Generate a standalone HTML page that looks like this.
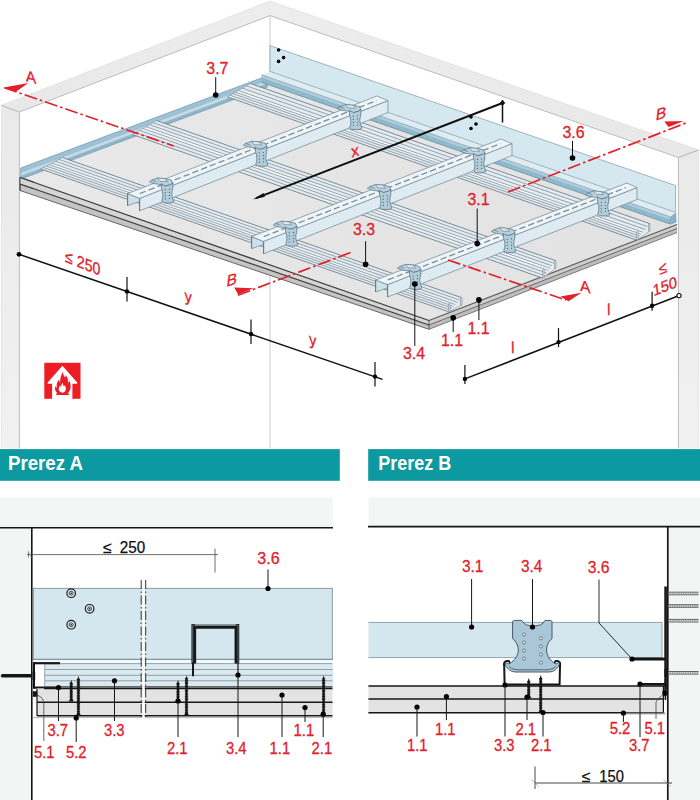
<!DOCTYPE html>
<html lang="sl"><head><meta charset="utf-8"><title>Prerez A / Prerez B</title>
<style>
html,body{margin:0;padding:0;background:#fff;}
body{width:700px;height:800px;overflow:hidden;font-family:"Liberation Sans",sans-serif;}
svg{display:block;font-family:"Liberation Sans",sans-serif;}
</style></head><body>
<svg width="700" height="800" viewBox="0 0 700 800">
<defs>
<linearGradient id="gwl" x1="0" y1="0" x2="0" y2="1"><stop offset="0" stop-color="#e9e9e9"/><stop offset="1" stop-color="#f1f1f1"/></linearGradient>
<linearGradient id="gtl" x1="0" y1="1" x2="1" y2="0"><stop offset="0" stop-color="#e8e8e8"/><stop offset="1" stop-color="#ededed"/></linearGradient>
<linearGradient id="gtr" x1="0" y1="0" x2="1" y2="1"><stop offset="0" stop-color="#ededed"/><stop offset="1" stop-color="#e8e8e8"/></linearGradient>
<linearGradient id="gbd" x1="0" y1="0" x2="1" y2="0"><stop offset="0" stop-color="#e9e9e9"/><stop offset="1" stop-color="#e2e2e2"/></linearGradient>
</defs>
<polygon points="1.4,105.4 270.0,1.2 270.0,15.6 19.4,112.0" fill="url(#gtl)" stroke="none" stroke-width="0.7" stroke-linejoin="round" />
<polygon points="270.0,1.2 698.6,150.0 678.4,157.5 270.0,15.6" fill="url(#gtr)" stroke="none" stroke-width="0.7" stroke-linejoin="round" />
<polygon points="1.4,105.4 19.4,112.0 19.4,448.5 1.4,448.5" fill="url(#gwl)" stroke="none" stroke-width="0.7" stroke-linejoin="round" />
<polygon points="678.4,157.5 698.6,150.0 698.6,448.5 678.4,448.5" fill="url(#gwl)" stroke="none" stroke-width="0.7" stroke-linejoin="round" />
<polyline points="1.4,448.0 1.4,105.4 270.0,1.2 698.6,150.0 698.6,448.0" fill="none" stroke="#dedede" stroke-width="0.8" />
<polyline points="19.4,448.0 19.4,112.0 270.0,15.6 678.4,157.5 678.4,448.0" fill="none" stroke="#adadad" stroke-width="0.8" />
<line x1="1.4" y1="105.4" x2="19.4" y2="112.0" stroke="#adadad" stroke-width="0.9" />
<line x1="678.4" y1="157.5" x2="698.6" y2="150.0" stroke="#adadad" stroke-width="0.9" />
<line x1="270.0" y1="15.6" x2="270.0" y2="448.0" stroke="#bdbdbd" stroke-width="0.8" />
<polygon points="20.0,177.5 429.0,320.5 677.0,224.5 268.0,81.5" fill="url(#gbd)" stroke="none" stroke-width="0.7" stroke-linejoin="round" />
<polygon points="20.0,177.5 429.0,320.5 429.0,325.0 20.0,184.0" fill="#d6d6d6" stroke="none" stroke-width="0.7" stroke-linejoin="round" />
<polygon points="20.0,184.0 429.0,325.0 429.0,329.3 20.0,190.5" fill="#c4c4c4" stroke="none" stroke-width="0.7" stroke-linejoin="round" />
<polygon points="429.0,320.5 677.0,224.5 677.0,228.5 429.0,325.0" fill="#cfcfcf" stroke="none" stroke-width="0.7" stroke-linejoin="round" />
<polygon points="429.0,325.0 677.0,228.5 677.0,232.5 429.0,329.3" fill="#bdbdbd" stroke="none" stroke-width="0.7" stroke-linejoin="round" />
<polyline points="20.0,177.5 429.0,320.5" fill="none" stroke="#3c3c3c" stroke-width="1.3" />
<polyline points="429.0,320.5 677.0,224.5" fill="none" stroke="#5c5c5c" stroke-width="1.15" />
<polyline points="20.0,184.0 429.0,325.0" fill="none" stroke="#3c3c3c" stroke-width="1.2" />
<polyline points="429.0,325.0 677.0,228.5" fill="none" stroke="#686868" stroke-width="1.0" />
<polyline points="20.0,190.5 429.0,329.3" fill="none" stroke="#666" stroke-width="1.0" />
<polyline points="429.0,329.3 677.0,232.5" fill="none" stroke="#7c7c7c" stroke-width="1.0" />
<line x1="429.0" y1="320.5" x2="429.0" y2="329.3" stroke="#3c3c3c" stroke-width="0.8" />
<line x1="20.0" y1="177.5" x2="20.0" y2="190.5" stroke="#3c3c3c" stroke-width="0.8" />
<polygon points="20.7,168.0 268.0,75.5 268.0,80.0 20.7,172.5" fill="#9cc2d6" stroke="none" stroke-width="0.5" stroke-linejoin="round" />
<polygon points="20.7,172.5 268.0,80.0 268.0,83.8 20.7,176.3" fill="#c4dbe7" stroke="none" stroke-width="0.5" stroke-linejoin="round" />
<polygon points="20.7,176.3 268.0,83.8 268.0,86.7 20.7,179.2" fill="#8fb6ca" stroke="none" stroke-width="0.5" stroke-linejoin="round" />
<line x1="20.7" y1="168.0" x2="268.0" y2="75.5" stroke="#6f93a7" stroke-width="0.7" />
<line x1="20.7" y1="172.5" x2="268.0" y2="80.0" stroke="#7fa3b6" stroke-width="0.5" />
<line x1="20.7" y1="176.3" x2="268.0" y2="83.8" stroke="#7fa3b6" stroke-width="0.5" />
<line x1="20.7" y1="179.2" x2="268.0" y2="86.7" stroke="#6f93a7" stroke-width="0.6" />
<line x1="20.7" y1="168.0" x2="20.7" y2="177.5" stroke="#6f93a7" stroke-width="0.7" />
<polygon points="20.0,177.5 34.0,182.4 34.0,188.8 20.0,184.0" fill="#d6d6d6" stroke="none" stroke-width="0.7" stroke-linejoin="round" />
<line x1="20.0" y1="177.5" x2="34.0" y2="182.4" stroke="#3c3c3c" stroke-width="1.3" />
<line x1="20.0" y1="184.0" x2="34.0" y2="188.8" stroke="#3c3c3c" stroke-width="1.2" />
<line x1="20.0" y1="177.5" x2="20.0" y2="190.5" stroke="#3c3c3c" stroke-width="0.8" />
<polygon points="250.4,83.5 650.0,223.8 650.0,230.8 636.5,240.0 227.2,96.8" fill="#e4ecf1" stroke="none" stroke-width="0.7" stroke-linejoin="round" />
<polygon points="238.2,90.5 642.9,232.3 641.3,234.2 235.4,92.1" fill="#fbfdfe" stroke="none" stroke-width="0.7" stroke-linejoin="round" />
<line x1="250.4" y1="83.5" x2="650.0" y2="223.8" stroke="#6f808b" stroke-width="0.9" />
<line x1="246.3" y1="85.8" x2="647.6" y2="226.6" stroke="#80919c" stroke-width="0.8" />
<line x1="242.3" y1="88.1" x2="645.3" y2="229.5" stroke="#80919c" stroke-width="0.8" />
<line x1="238.2" y1="90.5" x2="642.9" y2="232.3" stroke="#80919c" stroke-width="0.8" />
<line x1="235.4" y1="92.1" x2="641.3" y2="234.2" stroke="#80919c" stroke-width="0.8" />
<line x1="232.7" y1="93.6" x2="639.7" y2="236.2" stroke="#80919c" stroke-width="0.8" />
<line x1="229.9" y1="95.2" x2="638.1" y2="238.1" stroke="#80919c" stroke-width="0.8" />
<line x1="227.2" y1="96.8" x2="636.5" y2="240.0" stroke="#6f808b" stroke-width="0.9" />
<line x1="250.4" y1="83.5" x2="227.2" y2="96.8" stroke="#8a99a3" stroke-width="0.7" />
<polygon points="650.0,223.8 650.0,230.8 648.5,231.4 648.5,223.3" fill="#cfdde6" stroke="#7f8f9a" stroke-width="0.6" stroke-linejoin="round" />
<polygon points="636.5,232.0 636.5,240.0 638.1,239.4 638.1,231.4" fill="#cfdde6" stroke="#7f8f9a" stroke-width="0.6" stroke-linejoin="round" />
<line x1="650.0" y1="230.8" x2="638.1" y2="239.4" stroke="#8a99a3" stroke-width="0.6" />
<polygon points="156.4,120.5 556.0,260.8 556.0,267.8 542.5,278.0 132.6,134.6" fill="#e4ecf1" stroke="none" stroke-width="0.7" stroke-linejoin="round" />
<polygon points="145.9,126.7 550.1,268.4 548.4,270.4 143.1,128.4" fill="#fbfdfe" stroke="none" stroke-width="0.7" stroke-linejoin="round" />
<line x1="156.4" y1="120.5" x2="556.0" y2="260.8" stroke="#6f808b" stroke-width="0.9" />
<line x1="152.9" y1="122.6" x2="554.0" y2="263.3" stroke="#80919c" stroke-width="0.8" />
<line x1="149.4" y1="124.6" x2="552.0" y2="265.8" stroke="#80919c" stroke-width="0.8" />
<line x1="145.9" y1="126.7" x2="550.1" y2="268.4" stroke="#80919c" stroke-width="0.8" />
<line x1="143.1" y1="128.4" x2="548.4" y2="270.4" stroke="#80919c" stroke-width="0.8" />
<line x1="139.6" y1="130.4" x2="546.5" y2="273.0" stroke="#80919c" stroke-width="0.8" />
<line x1="136.1" y1="132.5" x2="544.5" y2="275.5" stroke="#80919c" stroke-width="0.8" />
<line x1="132.6" y1="134.6" x2="542.5" y2="278.0" stroke="#6f808b" stroke-width="0.9" />
<line x1="156.4" y1="120.5" x2="132.6" y2="134.6" stroke="#8a99a3" stroke-width="0.7" />
<polygon points="556.0,260.8 556.0,267.8 554.5,268.4 554.5,260.3" fill="#cfdde6" stroke="#7f8f9a" stroke-width="0.6" stroke-linejoin="round" />
<polygon points="542.5,270.0 542.5,278.0 544.1,277.4 544.1,269.4" fill="#cfdde6" stroke="#7f8f9a" stroke-width="0.6" stroke-linejoin="round" />
<line x1="556.0" y1="267.8" x2="544.1" y2="277.4" stroke="#8a99a3" stroke-width="0.6" />
<polygon points="62.4,157.5 462.0,297.8 462.0,304.8 448.5,311.7 40.6,168.9" fill="#e4ecf1" stroke="none" stroke-width="0.7" stroke-linejoin="round" />
<polygon points="51.7,163.1 455.4,304.6 453.8,306.3 49.1,164.5" fill="#fbfdfe" stroke="none" stroke-width="0.7" stroke-linejoin="round" />
<line x1="62.4" y1="157.5" x2="462.0" y2="297.8" stroke="#6f808b" stroke-width="0.9" />
<line x1="58.8" y1="159.4" x2="459.8" y2="300.1" stroke="#80919c" stroke-width="0.8" />
<line x1="55.3" y1="161.2" x2="457.6" y2="302.3" stroke="#80919c" stroke-width="0.8" />
<line x1="51.7" y1="163.1" x2="455.4" y2="304.6" stroke="#80919c" stroke-width="0.8" />
<line x1="49.1" y1="164.5" x2="453.8" y2="306.3" stroke="#80919c" stroke-width="0.8" />
<line x1="46.3" y1="166.0" x2="452.0" y2="308.1" stroke="#80919c" stroke-width="0.8" />
<line x1="43.4" y1="167.5" x2="450.3" y2="309.9" stroke="#80919c" stroke-width="0.8" />
<line x1="40.6" y1="168.9" x2="448.5" y2="311.7" stroke="#6f808b" stroke-width="0.9" />
<line x1="62.4" y1="157.5" x2="40.6" y2="168.9" stroke="#8a99a3" stroke-width="0.7" />
<polygon points="462.0,297.8 462.0,304.8 460.5,305.4 460.5,297.3" fill="#cfdde6" stroke="#7f8f9a" stroke-width="0.6" stroke-linejoin="round" />
<polygon points="448.5,303.7 448.5,311.7 450.1,311.1 450.1,303.1" fill="#cfdde6" stroke="#7f8f9a" stroke-width="0.6" stroke-linejoin="round" />
<line x1="462.0" y1="304.8" x2="450.1" y2="311.1" stroke="#8a99a3" stroke-width="0.6" />
<polygon points="261.4,74.7 670.2,216.8 670.2,220.1 261.4,78.1" fill="#aecddd" stroke="none" stroke-width="0.7" stroke-linejoin="round" />
<polygon points="261.4,78.1 670.2,220.1 670.2,224.1 261.4,82.3" fill="#8ebace" stroke="none" stroke-width="0.7" stroke-linejoin="round" />
<polygon points="670.2,216.8 675.8,212.8 676.2,222.6 670.2,224.1" fill="#86b3c8" stroke="#6f93a7" stroke-width="0.5" stroke-linejoin="round" />
<polygon points="270.0,71.4 675.6,212.4 670.2,216.8 261.4,74.7" fill="#dfedf3" stroke="none" stroke-width="0.7" stroke-linejoin="round" />
<line x1="261.4" y1="74.7" x2="670.2" y2="216.8" stroke="#6f8fa0" stroke-width="0.6" />
<line x1="261.4" y1="78.1" x2="670.2" y2="220.1" stroke="#7fa3b6" stroke-width="0.5" />
<line x1="261.4" y1="82.3" x2="670.2" y2="224.1" stroke="#5f8598" stroke-width="0.7" />
<polygon points="270.0,45.6 675.6,185.6 675.6,212.4 270.0,71.4" fill="#d6e8ef" stroke="#7f99a6" stroke-width="0.7" stroke-linejoin="round" />
<circle cx="278.6" cy="50.0" r="1.8" fill="#000" stroke="none" stroke-width="0.7"/>
<circle cx="283.6" cy="57.6" r="1.8" fill="#000" stroke="none" stroke-width="0.7"/>
<circle cx="278.6" cy="61.4" r="1.8" fill="#000" stroke="none" stroke-width="0.7"/>
<polygon points="127.6,193.6 139.6,198.4 139.6,201.5 127.6,205.6" fill="#cde1eb" stroke="#6f8592" stroke-width="0.7" stroke-linejoin="round" />
<polygon points="139.6,198.4 388.0,100.6 388.0,112.6 139.6,210.8" fill="#deebf2" stroke="#6f8592" stroke-width="0.7" stroke-linejoin="round" />
<polygon points="127.6,193.6 139.6,198.4 388.0,100.6 377.0,96.0" fill="#eef5f9" stroke="#6f8592" stroke-width="0.7" stroke-linejoin="round" />
<line x1="139.6" y1="198.4" x2="139.6" y2="210.8" stroke="#5f7582" stroke-width="0.9" />
<line x1="127.6" y1="193.6" x2="127.6" y2="205.6" stroke="#5f7582" stroke-width="0.9" />
<line x1="139.8" y1="193.6" x2="376.3" y2="100.7" stroke="#7a8d99" stroke-width="1.3" stroke-dasharray="6.4 3.0"/>
<polygon points="149.4,181.8 151.5,180.2 157.5,178.0 165.0,178.6 171.2,180.0 173.0,183.0 170.0,184.8 165.5,186.0 159.5,184.4 154.0,183.6" fill="#b9d1de" stroke="#4f6b7a" stroke-width="0.65" stroke-linejoin="round" />
<polygon points="157.5,178.0 165.0,178.6 167.5,181.6 160.0,181.4" fill="#dbe8ef" stroke="#4f6b7a" stroke-width="0.5" stroke-linejoin="round" />
<line x1="151.5" y1="180.2" x2="156.5" y2="182.0" stroke="#4f6b7a" stroke-width="0.6" />
<path d="M161.3 183.8 L165.5 186.0 L170.0 184.8 L173.0 183.0 L172.6 189.2 C171.4 192.2 171.6 196.2 172.8 198.7 L174.0 201.4 L171.0 203.0 L163.5 202.8 L161.8 201.0 C163.4 197.2 163.2 192.2 161.6 188.7 Z" fill="#b2ccda" stroke="#4f6b7a" stroke-width="0.7" stroke-linejoin="round"/>
<circle cx="165.3" cy="189.6" r="0.62" fill="#3f5a69" stroke="none" stroke-width="0.7"/>
<circle cx="169.5" cy="189.2" r="0.62" fill="#3f5a69" stroke="none" stroke-width="0.7"/>
<circle cx="165.3" cy="192.7" r="0.62" fill="#3f5a69" stroke="none" stroke-width="0.7"/>
<circle cx="169.5" cy="192.3" r="0.62" fill="#3f5a69" stroke="none" stroke-width="0.7"/>
<circle cx="165.3" cy="195.8" r="0.62" fill="#3f5a69" stroke="none" stroke-width="0.7"/>
<circle cx="169.5" cy="195.4" r="0.62" fill="#3f5a69" stroke="none" stroke-width="0.7"/>
<circle cx="165.3" cy="198.9" r="0.62" fill="#3f5a69" stroke="none" stroke-width="0.7"/>
<circle cx="169.5" cy="198.5" r="0.62" fill="#3f5a69" stroke="none" stroke-width="0.7"/>
<polygon points="243.4,145.1 245.5,143.5 251.5,141.3 259.0,141.9 265.2,143.3 267.0,146.3 264.0,148.1 259.5,149.3 253.5,147.7 248.0,146.9" fill="#b9d1de" stroke="#4f6b7a" stroke-width="0.65" stroke-linejoin="round" />
<polygon points="251.5,141.3 259.0,141.9 261.5,144.9 254.0,144.7" fill="#dbe8ef" stroke="#4f6b7a" stroke-width="0.5" stroke-linejoin="round" />
<line x1="245.5" y1="143.5" x2="250.5" y2="145.3" stroke="#4f6b7a" stroke-width="0.6" />
<path d="M255.3 147.1 L259.5 149.3 L264.0 148.1 L267.0 146.3 L266.6 152.5 C265.4 155.5 265.6 159.5 266.8 162.0 L268.0 164.7 L265.0 166.3 L257.5 166.1 L255.8 164.3 C257.4 160.5 257.2 155.5 255.6 152.0 Z" fill="#b2ccda" stroke="#4f6b7a" stroke-width="0.7" stroke-linejoin="round"/>
<circle cx="259.3" cy="152.9" r="0.62" fill="#3f5a69" stroke="none" stroke-width="0.7"/>
<circle cx="263.5" cy="152.5" r="0.62" fill="#3f5a69" stroke="none" stroke-width="0.7"/>
<circle cx="259.3" cy="156.0" r="0.62" fill="#3f5a69" stroke="none" stroke-width="0.7"/>
<circle cx="263.5" cy="155.6" r="0.62" fill="#3f5a69" stroke="none" stroke-width="0.7"/>
<circle cx="259.3" cy="159.1" r="0.62" fill="#3f5a69" stroke="none" stroke-width="0.7"/>
<circle cx="263.5" cy="158.7" r="0.62" fill="#3f5a69" stroke="none" stroke-width="0.7"/>
<circle cx="259.3" cy="162.2" r="0.62" fill="#3f5a69" stroke="none" stroke-width="0.7"/>
<circle cx="263.5" cy="161.8" r="0.62" fill="#3f5a69" stroke="none" stroke-width="0.7"/>
<polygon points="337.4,108.4 339.5,106.8 345.5,104.6 353.0,105.2 359.2,106.6 361.0,109.6 358.0,111.4 353.5,112.6 347.5,111.0 342.0,110.2" fill="#b9d1de" stroke="#4f6b7a" stroke-width="0.65" stroke-linejoin="round" />
<polygon points="345.5,104.6 353.0,105.2 355.5,108.2 348.0,108.0" fill="#dbe8ef" stroke="#4f6b7a" stroke-width="0.5" stroke-linejoin="round" />
<line x1="339.5" y1="106.8" x2="344.5" y2="108.6" stroke="#4f6b7a" stroke-width="0.6" />
<path d="M349.3 110.4 L353.5 112.6 L358.0 111.4 L361.0 109.6 L360.6 115.8 C359.4 118.8 359.6 122.8 360.8 125.3 L362.0 128.0 L359.0 129.6 L351.5 129.4 L349.8 127.6 C351.4 123.8 351.2 118.8 349.6 115.3 Z" fill="#b2ccda" stroke="#4f6b7a" stroke-width="0.7" stroke-linejoin="round"/>
<circle cx="353.3" cy="116.2" r="0.62" fill="#3f5a69" stroke="none" stroke-width="0.7"/>
<circle cx="357.5" cy="115.8" r="0.62" fill="#3f5a69" stroke="none" stroke-width="0.7"/>
<circle cx="353.3" cy="119.3" r="0.62" fill="#3f5a69" stroke="none" stroke-width="0.7"/>
<circle cx="357.5" cy="118.9" r="0.62" fill="#3f5a69" stroke="none" stroke-width="0.7"/>
<circle cx="353.3" cy="122.4" r="0.62" fill="#3f5a69" stroke="none" stroke-width="0.7"/>
<circle cx="357.5" cy="122.0" r="0.62" fill="#3f5a69" stroke="none" stroke-width="0.7"/>
<circle cx="353.3" cy="125.5" r="0.62" fill="#3f5a69" stroke="none" stroke-width="0.7"/>
<circle cx="357.5" cy="125.1" r="0.62" fill="#3f5a69" stroke="none" stroke-width="0.7"/>
<polygon points="251.6,236.6 263.6,241.4 263.6,244.5 251.6,248.6" fill="#cde1eb" stroke="#6f8592" stroke-width="0.7" stroke-linejoin="round" />
<polygon points="263.6,241.4 512.0,143.6 512.0,155.6 263.6,253.8" fill="#deebf2" stroke="#6f8592" stroke-width="0.7" stroke-linejoin="round" />
<polygon points="251.6,236.6 263.6,241.4 512.0,143.6 501.0,139.0" fill="#eef5f9" stroke="#6f8592" stroke-width="0.7" stroke-linejoin="round" />
<line x1="263.6" y1="241.4" x2="263.6" y2="253.8" stroke="#5f7582" stroke-width="0.9" />
<line x1="251.6" y1="236.6" x2="251.6" y2="248.6" stroke="#5f7582" stroke-width="0.9" />
<line x1="263.8" y1="236.6" x2="500.3" y2="143.7" stroke="#7a8d99" stroke-width="1.3" stroke-dasharray="6.4 3.0"/>
<polygon points="273.4,225.0 275.5,223.4 281.5,221.2 289.0,221.8 295.2,223.2 297.0,226.2 294.0,228.0 289.5,229.2 283.5,227.6 278.0,226.8" fill="#b9d1de" stroke="#4f6b7a" stroke-width="0.65" stroke-linejoin="round" />
<polygon points="281.5,221.2 289.0,221.8 291.5,224.8 284.0,224.6" fill="#dbe8ef" stroke="#4f6b7a" stroke-width="0.5" stroke-linejoin="round" />
<line x1="275.5" y1="223.4" x2="280.5" y2="225.2" stroke="#4f6b7a" stroke-width="0.6" />
<path d="M285.3 227.0 L289.5 229.2 L294.0 228.0 L297.0 226.2 L296.6 232.4 C295.4 235.4 295.6 239.4 296.8 241.9 L298.0 244.6 L295.0 246.2 L287.5 246.0 L285.8 244.2 C287.4 240.4 287.2 235.4 285.6 231.9 Z" fill="#b2ccda" stroke="#4f6b7a" stroke-width="0.7" stroke-linejoin="round"/>
<circle cx="289.3" cy="232.8" r="0.62" fill="#3f5a69" stroke="none" stroke-width="0.7"/>
<circle cx="293.5" cy="232.4" r="0.62" fill="#3f5a69" stroke="none" stroke-width="0.7"/>
<circle cx="289.3" cy="235.9" r="0.62" fill="#3f5a69" stroke="none" stroke-width="0.7"/>
<circle cx="293.5" cy="235.5" r="0.62" fill="#3f5a69" stroke="none" stroke-width="0.7"/>
<circle cx="289.3" cy="239.0" r="0.62" fill="#3f5a69" stroke="none" stroke-width="0.7"/>
<circle cx="293.5" cy="238.6" r="0.62" fill="#3f5a69" stroke="none" stroke-width="0.7"/>
<circle cx="289.3" cy="242.1" r="0.62" fill="#3f5a69" stroke="none" stroke-width="0.7"/>
<circle cx="293.5" cy="241.7" r="0.62" fill="#3f5a69" stroke="none" stroke-width="0.7"/>
<polygon points="367.4,188.3 369.5,186.7 375.5,184.5 383.0,185.1 389.2,186.5 391.0,189.5 388.0,191.3 383.5,192.5 377.5,190.9 372.0,190.1" fill="#b9d1de" stroke="#4f6b7a" stroke-width="0.65" stroke-linejoin="round" />
<polygon points="375.5,184.5 383.0,185.1 385.5,188.1 378.0,187.9" fill="#dbe8ef" stroke="#4f6b7a" stroke-width="0.5" stroke-linejoin="round" />
<line x1="369.5" y1="186.7" x2="374.5" y2="188.5" stroke="#4f6b7a" stroke-width="0.6" />
<path d="M379.3 190.3 L383.5 192.5 L388.0 191.3 L391.0 189.5 L390.6 195.7 C389.4 198.7 389.6 202.7 390.8 205.2 L392.0 207.9 L389.0 209.5 L381.5 209.3 L379.8 207.5 C381.4 203.7 381.2 198.7 379.6 195.2 Z" fill="#b2ccda" stroke="#4f6b7a" stroke-width="0.7" stroke-linejoin="round"/>
<circle cx="383.3" cy="196.1" r="0.62" fill="#3f5a69" stroke="none" stroke-width="0.7"/>
<circle cx="387.5" cy="195.7" r="0.62" fill="#3f5a69" stroke="none" stroke-width="0.7"/>
<circle cx="383.3" cy="199.2" r="0.62" fill="#3f5a69" stroke="none" stroke-width="0.7"/>
<circle cx="387.5" cy="198.8" r="0.62" fill="#3f5a69" stroke="none" stroke-width="0.7"/>
<circle cx="383.3" cy="202.3" r="0.62" fill="#3f5a69" stroke="none" stroke-width="0.7"/>
<circle cx="387.5" cy="201.9" r="0.62" fill="#3f5a69" stroke="none" stroke-width="0.7"/>
<circle cx="383.3" cy="205.4" r="0.62" fill="#3f5a69" stroke="none" stroke-width="0.7"/>
<circle cx="387.5" cy="205.0" r="0.62" fill="#3f5a69" stroke="none" stroke-width="0.7"/>
<polygon points="461.4,151.6 463.5,150.0 469.5,147.8 477.0,148.4 483.2,149.8 485.0,152.8 482.0,154.6 477.5,155.8 471.5,154.2 466.0,153.4" fill="#b9d1de" stroke="#4f6b7a" stroke-width="0.65" stroke-linejoin="round" />
<polygon points="469.5,147.8 477.0,148.4 479.5,151.4 472.0,151.2" fill="#dbe8ef" stroke="#4f6b7a" stroke-width="0.5" stroke-linejoin="round" />
<line x1="463.5" y1="150.0" x2="468.5" y2="151.8" stroke="#4f6b7a" stroke-width="0.6" />
<path d="M473.3 153.6 L477.5 155.8 L482.0 154.6 L485.0 152.8 L484.6 159.0 C483.4 162.0 483.6 166.0 484.8 168.5 L486.0 171.2 L483.0 172.8 L475.5 172.6 L473.8 170.8 C475.4 167.0 475.2 162.0 473.6 158.5 Z" fill="#b2ccda" stroke="#4f6b7a" stroke-width="0.7" stroke-linejoin="round"/>
<circle cx="477.3" cy="159.4" r="0.62" fill="#3f5a69" stroke="none" stroke-width="0.7"/>
<circle cx="481.5" cy="159.0" r="0.62" fill="#3f5a69" stroke="none" stroke-width="0.7"/>
<circle cx="477.3" cy="162.5" r="0.62" fill="#3f5a69" stroke="none" stroke-width="0.7"/>
<circle cx="481.5" cy="162.1" r="0.62" fill="#3f5a69" stroke="none" stroke-width="0.7"/>
<circle cx="477.3" cy="165.6" r="0.62" fill="#3f5a69" stroke="none" stroke-width="0.7"/>
<circle cx="481.5" cy="165.2" r="0.62" fill="#3f5a69" stroke="none" stroke-width="0.7"/>
<circle cx="477.3" cy="168.7" r="0.62" fill="#3f5a69" stroke="none" stroke-width="0.7"/>
<circle cx="481.5" cy="168.3" r="0.62" fill="#3f5a69" stroke="none" stroke-width="0.7"/>
<polygon points="375.6,280.0 387.6,284.6 387.6,287.9 375.6,292.0" fill="#cde1eb" stroke="#6f8592" stroke-width="0.7" stroke-linejoin="round" />
<polygon points="387.6,284.6 637.0,187.6 637.0,199.6 387.6,297.0" fill="#deebf2" stroke="#6f8592" stroke-width="0.7" stroke-linejoin="round" />
<polygon points="375.6,280.0 387.6,284.6 637.0,187.6 627.0,183.0" fill="#eef5f9" stroke="#6f8592" stroke-width="0.7" stroke-linejoin="round" />
<line x1="387.6" y1="284.6" x2="387.6" y2="297.0" stroke="#5f7582" stroke-width="0.9" />
<line x1="375.6" y1="280.0" x2="375.6" y2="292.0" stroke="#5f7582" stroke-width="0.9" />
<line x1="387.9" y1="279.9" x2="625.7" y2="187.7" stroke="#7a8d99" stroke-width="1.3" stroke-dasharray="6.4 3.0"/>
<polygon points="397.4,268.2 399.5,266.6 405.5,264.4 413.0,265.0 419.2,266.4 421.0,269.4 418.0,271.2 413.5,272.4 407.5,270.8 402.0,270.0" fill="#b9d1de" stroke="#4f6b7a" stroke-width="0.65" stroke-linejoin="round" />
<polygon points="405.5,264.4 413.0,265.0 415.5,268.0 408.0,267.8" fill="#dbe8ef" stroke="#4f6b7a" stroke-width="0.5" stroke-linejoin="round" />
<line x1="399.5" y1="266.6" x2="404.5" y2="268.4" stroke="#4f6b7a" stroke-width="0.6" />
<path d="M409.3 270.2 L413.5 272.4 L418.0 271.2 L421.0 269.4 L420.6 275.6 C419.4 278.6 419.6 282.6 420.8 285.1 L422.0 287.8 L419.0 289.4 L411.5 289.2 L409.8 287.4 C411.4 283.6 411.2 278.6 409.6 275.1 Z" fill="#b2ccda" stroke="#4f6b7a" stroke-width="0.7" stroke-linejoin="round"/>
<circle cx="413.3" cy="276.0" r="0.62" fill="#3f5a69" stroke="none" stroke-width="0.7"/>
<circle cx="417.5" cy="275.6" r="0.62" fill="#3f5a69" stroke="none" stroke-width="0.7"/>
<circle cx="413.3" cy="279.1" r="0.62" fill="#3f5a69" stroke="none" stroke-width="0.7"/>
<circle cx="417.5" cy="278.7" r="0.62" fill="#3f5a69" stroke="none" stroke-width="0.7"/>
<circle cx="413.3" cy="282.2" r="0.62" fill="#3f5a69" stroke="none" stroke-width="0.7"/>
<circle cx="417.5" cy="281.8" r="0.62" fill="#3f5a69" stroke="none" stroke-width="0.7"/>
<circle cx="413.3" cy="285.3" r="0.62" fill="#3f5a69" stroke="none" stroke-width="0.7"/>
<circle cx="417.5" cy="284.9" r="0.62" fill="#3f5a69" stroke="none" stroke-width="0.7"/>
<polygon points="491.4,231.5 493.5,229.9 499.5,227.7 507.0,228.3 513.2,229.7 515.0,232.7 512.0,234.5 507.5,235.7 501.5,234.1 496.0,233.3" fill="#b9d1de" stroke="#4f6b7a" stroke-width="0.65" stroke-linejoin="round" />
<polygon points="499.5,227.7 507.0,228.3 509.5,231.3 502.0,231.1" fill="#dbe8ef" stroke="#4f6b7a" stroke-width="0.5" stroke-linejoin="round" />
<line x1="493.5" y1="229.9" x2="498.5" y2="231.7" stroke="#4f6b7a" stroke-width="0.6" />
<path d="M503.3 233.5 L507.5 235.7 L512.0 234.5 L515.0 232.7 L514.6 238.9 C513.4 241.9 513.6 245.9 514.8 248.4 L516.0 251.1 L513.0 252.7 L505.5 252.5 L503.8 250.7 C505.4 246.9 505.2 241.9 503.6 238.4 Z" fill="#b2ccda" stroke="#4f6b7a" stroke-width="0.7" stroke-linejoin="round"/>
<circle cx="507.3" cy="239.3" r="0.62" fill="#3f5a69" stroke="none" stroke-width="0.7"/>
<circle cx="511.5" cy="238.9" r="0.62" fill="#3f5a69" stroke="none" stroke-width="0.7"/>
<circle cx="507.3" cy="242.4" r="0.62" fill="#3f5a69" stroke="none" stroke-width="0.7"/>
<circle cx="511.5" cy="242.0" r="0.62" fill="#3f5a69" stroke="none" stroke-width="0.7"/>
<circle cx="507.3" cy="245.5" r="0.62" fill="#3f5a69" stroke="none" stroke-width="0.7"/>
<circle cx="511.5" cy="245.1" r="0.62" fill="#3f5a69" stroke="none" stroke-width="0.7"/>
<circle cx="507.3" cy="248.6" r="0.62" fill="#3f5a69" stroke="none" stroke-width="0.7"/>
<circle cx="511.5" cy="248.2" r="0.62" fill="#3f5a69" stroke="none" stroke-width="0.7"/>
<polygon points="585.4,194.8 587.5,193.2 593.5,191.0 601.0,191.6 607.2,193.0 609.0,196.0 606.0,197.8 601.5,199.0 595.5,197.4 590.0,196.6" fill="#b9d1de" stroke="#4f6b7a" stroke-width="0.65" stroke-linejoin="round" />
<polygon points="593.5,191.0 601.0,191.6 603.5,194.6 596.0,194.4" fill="#dbe8ef" stroke="#4f6b7a" stroke-width="0.5" stroke-linejoin="round" />
<line x1="587.5" y1="193.2" x2="592.5" y2="195.0" stroke="#4f6b7a" stroke-width="0.6" />
<path d="M597.3 196.8 L601.5 199.0 L606.0 197.8 L609.0 196.0 L608.6 202.2 C607.4 205.2 607.6 209.2 608.8 211.7 L610.0 214.4 L607.0 216.0 L599.5 215.8 L597.8 214.0 C599.4 210.2 599.2 205.2 597.6 201.7 Z" fill="#b2ccda" stroke="#4f6b7a" stroke-width="0.7" stroke-linejoin="round"/>
<circle cx="601.3" cy="202.6" r="0.62" fill="#3f5a69" stroke="none" stroke-width="0.7"/>
<circle cx="605.5" cy="202.2" r="0.62" fill="#3f5a69" stroke="none" stroke-width="0.7"/>
<circle cx="601.3" cy="205.7" r="0.62" fill="#3f5a69" stroke="none" stroke-width="0.7"/>
<circle cx="605.5" cy="205.3" r="0.62" fill="#3f5a69" stroke="none" stroke-width="0.7"/>
<circle cx="601.3" cy="208.8" r="0.62" fill="#3f5a69" stroke="none" stroke-width="0.7"/>
<circle cx="605.5" cy="208.4" r="0.62" fill="#3f5a69" stroke="none" stroke-width="0.7"/>
<circle cx="601.3" cy="211.9" r="0.62" fill="#3f5a69" stroke="none" stroke-width="0.7"/>
<circle cx="605.5" cy="211.5" r="0.62" fill="#3f5a69" stroke="none" stroke-width="0.7"/>
<line x1="256.0" y1="198.2" x2="502.5" y2="103.0" stroke="#111" stroke-width="1.9" />
<polygon points="252.9,199.4 263.5,193.0 264.9,196.8" fill="#111" stroke="none" stroke-width="0.7" stroke-linejoin="round" />
<line x1="502.5" y1="100.0" x2="502.5" y2="122.5" stroke="#111" stroke-width="1.5" />
<polygon points="502.5,100.2 505.3,103.0 502.5,105.8 499.7,103.0" fill="#111" stroke="none" stroke-width="0.7" stroke-linejoin="round" />
<circle cx="471.0" cy="117.0" r="1.8" fill="#000" stroke="none" stroke-width="0.7"/>
<circle cx="476.0" cy="124.0" r="1.8" fill="#000" stroke="none" stroke-width="0.7"/>
<circle cx="471.0" cy="128.5" r="1.8" fill="#000" stroke="none" stroke-width="0.7"/>
<line x1="4.3" y1="87.8" x2="173.8" y2="146.0" stroke="#e2202b" stroke-width="1.7" stroke-dasharray="13 3 2.5 3" stroke-linecap="butt"/>
<line x1="448.0" y1="260.0" x2="566.0" y2="300.0" stroke="#e2202b" stroke-width="1.7" stroke-dasharray="13 3 2.5 3" stroke-linecap="butt"/>
<line x1="237.9" y1="295.3" x2="353.0" y2="251.6" stroke="#e2202b" stroke-width="1.7" stroke-dasharray="13 3 2.5 3" stroke-linecap="butt"/>
<line x1="508.0" y1="192.0" x2="687.0" y2="122.6" stroke="#e2202b" stroke-width="1.7" stroke-dasharray="13 3 2.5 3" stroke-linecap="butt"/>
<polygon points="3.8,87.4 28.3,83.0 16.3,91.6" fill="#e2202b" stroke="none" stroke-width="0.7" stroke-linejoin="round" />
<polygon points="560.4,296.4 581.5,292.8 568.5,301.2" fill="#e2202b" stroke="none" stroke-width="0.7" stroke-linejoin="round" />
<polygon points="234.2,287.4 253.5,288.2 238.2,294.6" fill="#e2202b" stroke="none" stroke-width="0.7" stroke-linejoin="round" />
<text transform="matrix(0.97,0.25,0.05,1,31.3,82.6)" font-size="16" fill="#e2202b" stroke="#e2202b" stroke-width="0.3" text-anchor="middle">A</text>
<text transform="matrix(0.97,0.25,0.05,1,585.5,292.0)" font-size="16" fill="#e2202b" stroke="#e2202b" stroke-width="0.3" text-anchor="middle">A</text>
<text transform="matrix(0.95,-0.3,-0.12,1,231.3,285.4)" font-size="16.5" fill="#e2202b" stroke="#e2202b" stroke-width="0.3" text-anchor="middle">B</text>
<text transform="matrix(0.95,-0.3,-0.12,1,660.5,119.0)" font-size="16.5" fill="#e2202b" stroke="#e2202b" stroke-width="0.3" text-anchor="middle">B</text>
<polygon points="664.3,121.4 683.6,121.1 668.6,126.9" fill="#e2202b" stroke="none" stroke-width="0.7" stroke-linejoin="round" />
<text x="206.3" y="74.2" font-size="16.8" fill="#e2202b" stroke="#e2202b" stroke-width="0.3" text-anchor="start" font-weight="normal" textLength="22.1" lengthAdjust="spacingAndGlyphs" >3.7</text>
<line x1="215.7" y1="77.2" x2="215.7" y2="95.0" stroke="#111" stroke-width="1.0" />
<circle cx="215.7" cy="95.0" r="2.8" fill="#000" stroke="none" stroke-width="0.7"/>
<text x="562.5" y="137.5" font-size="16.8" fill="#e2202b" stroke="#e2202b" stroke-width="0.3" text-anchor="start" font-weight="normal" textLength="22.1" lengthAdjust="spacingAndGlyphs" >3.6</text>
<line x1="572.5" y1="141.0" x2="572.5" y2="158.0" stroke="#111" stroke-width="1.0" />
<circle cx="572.5" cy="158.0" r="2.8" fill="#000" stroke="none" stroke-width="0.7"/>
<text x="467.5" y="205.4" font-size="16.8" fill="#e2202b" stroke="#e2202b" stroke-width="0.3" text-anchor="start" font-weight="normal" textLength="22.1" lengthAdjust="spacingAndGlyphs" >3.1</text>
<line x1="477.2" y1="208.5" x2="477.2" y2="243.6" stroke="#111" stroke-width="1.0" />
<circle cx="477.2" cy="243.6" r="2.8" fill="#000" stroke="none" stroke-width="0.7"/>
<text x="353.0" y="235.0" font-size="16.8" fill="#e2202b" stroke="#e2202b" stroke-width="0.3" text-anchor="start" font-weight="normal" textLength="22.1" lengthAdjust="spacingAndGlyphs" >3.3</text>
<line x1="365.6" y1="241.2" x2="365.6" y2="264.3" stroke="#111" stroke-width="1.0" />
<circle cx="365.6" cy="264.3" r="2.8" fill="#000" stroke="none" stroke-width="0.7"/>
<text x="403.0" y="358.5" font-size="16.8" fill="#e2202b" stroke="#e2202b" stroke-width="0.3" text-anchor="start" font-weight="normal" textLength="22.1" lengthAdjust="spacingAndGlyphs" >3.4</text>
<line x1="414.8" y1="346.0" x2="414.8" y2="284.0" stroke="#111" stroke-width="1.0" />
<circle cx="414.8" cy="284.0" r="2.8" fill="#000" stroke="none" stroke-width="0.7"/>
<text x="441.0" y="346.0" font-size="16.8" fill="#e2202b" stroke="#e2202b" stroke-width="0.3" text-anchor="start" font-weight="normal" textLength="22.1" lengthAdjust="spacingAndGlyphs" >1.1</text>
<line x1="453.2" y1="332.0" x2="453.2" y2="317.7" stroke="#111" stroke-width="1.0" />
<circle cx="453.2" cy="317.7" r="2.8" fill="#000" stroke="none" stroke-width="0.7"/>
<text x="467.5" y="334.3" font-size="16.8" fill="#e2202b" stroke="#e2202b" stroke-width="0.3" text-anchor="start" font-weight="normal" textLength="22.1" lengthAdjust="spacingAndGlyphs" >1.1</text>
<line x1="478.9" y1="320.0" x2="478.9" y2="299.9" stroke="#111" stroke-width="1.0" />
<circle cx="478.9" cy="299.9" r="2.8" fill="#000" stroke="none" stroke-width="0.7"/>
<text transform="matrix(0.95,-0.28,0.1,1,355.5,156.5)" font-size="16" fill="#e2202b" stroke="#e2202b" stroke-width="0.3" text-anchor="middle">x</text>
<line x1="19.0" y1="254.3" x2="382.5" y2="379.4" stroke="#111" stroke-width="1.5" />
<circle cx="19.0" cy="254.3" r="2.4" fill="#000" stroke="none" stroke-width="0.7"/>
<line x1="127.0" y1="276.9" x2="127.0" y2="301.4" stroke="#111" stroke-width="1.2" />
<circle cx="127.0" cy="291.4" r="2.2" fill="#000" stroke="none" stroke-width="0.7"/>
<line x1="251.0" y1="319.5" x2="251.0" y2="344.0" stroke="#111" stroke-width="1.2" />
<circle cx="251.0" cy="334.0" r="2.2" fill="#000" stroke="none" stroke-width="0.7"/>
<line x1="375.0" y1="362.1" x2="375.0" y2="386.6" stroke="#111" stroke-width="1.2" />
<circle cx="375.0" cy="376.6" r="2.2" fill="#000" stroke="none" stroke-width="0.7"/>
<text transform="matrix(0.86,0.345,-0.04,1,82.5,268.6)" font-size="16.6" fill="#e2202b" stroke="#e2202b" stroke-width="0.3" text-anchor="middle">≤ 250</text>
<text transform="matrix(0.9,0.3,0.04,1,188.5,302.0)" font-size="16.2" fill="#e2202b" stroke="#e2202b" stroke-width="0.3" text-anchor="middle">y</text>
<text transform="matrix(0.9,0.3,0.04,1,313.0,345.5)" font-size="16.2" fill="#e2202b" stroke="#e2202b" stroke-width="0.3" text-anchor="middle">y</text>
<line x1="464.9" y1="378.9" x2="677.3" y2="296.2" stroke="#111" stroke-width="1.5" />
<line x1="464.9" y1="364.9" x2="464.9" y2="383.9" stroke="#111" stroke-width="1.2" />
<circle cx="464.9" cy="378.9" r="2.2" fill="#000" stroke="none" stroke-width="0.7"/>
<line x1="558.5" y1="328.1" x2="558.5" y2="347.1" stroke="#111" stroke-width="1.2" />
<circle cx="558.5" cy="342.1" r="2.2" fill="#000" stroke="none" stroke-width="0.7"/>
<line x1="652.1" y1="291.7" x2="652.1" y2="310.7" stroke="#111" stroke-width="1.2" />
<circle cx="652.1" cy="305.7" r="2.2" fill="#000" stroke="none" stroke-width="0.7"/>
<circle cx="679.0" cy="295.6" r="2.1" fill="#fff" stroke="#111" stroke-width="1.1"/>
<text transform="matrix(0.93,-0.36,0.02,1,513.0,353.2)" font-size="16" fill="#e2202b" stroke="#e2202b" stroke-width="0.3" text-anchor="middle">l</text>
<text transform="matrix(0.93,-0.36,0.02,1,609.0,315.2)" font-size="16" fill="#e2202b" stroke="#e2202b" stroke-width="0.3" text-anchor="middle">l</text>
<text transform="matrix(0.93,-0.36,0.12,1,663.5,273.5)" font-size="15.5" fill="#e2202b" stroke="#e2202b" stroke-width="0.3" text-anchor="middle">≤</text>
<text transform="matrix(0.93,-0.36,0.12,1,665.5,291.5)" font-size="15.5" fill="#e2202b" stroke="#e2202b" stroke-width="0.3" text-anchor="middle">150</text>
<rect x="44.3" y="362.8" width="36.2" height="36.0" fill="#ee1c25" stroke="none" stroke-width="0.7" />
<path d="M62.4 365.7 L77.2 382.6 L77.2 383.8 L72.4 383.8 L72.4 399.2 L52.1 399.2 L52.1 383.8 L47.7 383.8 L47.7 382.6 Z" fill="#fff"/>
<path d="M56.2 394.9 L56.2 393.6 L57.6 393.6 C55 391.5 54.4 388.5 55.6 385.8 C55.8 387 56.2 387.6 56.8 388 C56.2 384.5 57.2 381.5 59.2 379.6 C59 381.2 59.4 382.2 60 383 C60 378.5 61.2 374.5 63 371.8 C63 374.5 63.8 376 65 377.5 C65.6 376.6 65.8 375.8 65.8 375 C67.6 377.5 68.4 380.2 68 383 C68.8 382.4 69.2 381.6 69.4 380.8 C71 384 71.2 388 69.6 390.8 C69 392 68.2 393 67.2 393.6 L68.9 393.6 L68.9 394.9 Z" fill="#ee1c25"/>
<path d="M61.8 392.6 C59.6 392.2 58.4 390.4 58.8 388.2 C59 387 59.6 386 60.4 385.2 C60.4 386.2 60.6 386.8 61 387.2 C61.2 385.4 61.8 383.8 62.8 382.8 C62.8 384.6 63.4 385.6 64.2 386.6 C64.4 386 64.6 385.6 64.6 385 C65.8 386.6 66.2 388.6 65.6 390.2 C65 391.8 63.6 392.8 61.8 392.6 Z" fill="#fff"/>
<rect x="0.0" y="449.1" width="339.8" height="31.7" fill="#0c9aa0" stroke="none" stroke-width="0.7" />
<rect x="368.2" y="449.1" width="331.8" height="31.7" fill="#0c9aa0" stroke="none" stroke-width="0.7" />
<text x="8" y="470.4" font-size="19.6" font-weight="bold" fill="#fff" textLength="75" lengthAdjust="spacingAndGlyphs">Prerez A</text>
<text x="378.3" y="470.4" font-size="19.6" font-weight="bold" fill="#fff" textLength="73" lengthAdjust="spacingAndGlyphs">Prerez B</text>
<rect x="0.0" y="497.5" width="332.5" height="29.5" fill="#f4f5f5" stroke="none" stroke-width="0.7" />
<rect x="368.6" y="497.5" width="331.4" height="29.0" fill="#f4f5f5" stroke="none" stroke-width="0.7" />
<rect x="0.0" y="528.0" width="31.5" height="272.0" fill="#f3f4f4" stroke="none" stroke-width="0.7" />
<line x1="0.0" y1="527.8" x2="333.0" y2="527.8" stroke="#161616" stroke-width="1.6" />
<line x1="31.8" y1="527.0" x2="31.8" y2="800.0" stroke="#161616" stroke-width="1.6" />
<line x1="27.0" y1="554.6" x2="218.0" y2="554.6" stroke="#4a4a4a" stroke-width="0.8" />
<line x1="215.0" y1="548.5" x2="215.0" y2="572.5" stroke="#4a4a4a" stroke-width="0.8" />
<line x1="28.5" y1="551.5" x2="28.5" y2="557.5" stroke="#666" stroke-width="0.7" />
<line x1="28.0" y1="551.0" x2="31.5" y2="558.0" stroke="#888" stroke-width="0.6" />
<text x="103" y="552.5" font-size="15.7" fill="#111" stroke="#111" stroke-width="0.25">≤</text><text x="119.8" y="552.5" font-size="15.7" fill="#111" stroke="#111" stroke-width="0.25" textLength="25.4" lengthAdjust="spacingAndGlyphs">250</text>
<rect x="33.3" y="588.3" width="299.0" height="71.4" fill="#d4e7ee" stroke="#76848c" stroke-width="0.8" />
<rect x="45.0" y="663.5" width="288.0" height="24.0" fill="#dbe9f0" stroke="none" stroke-width="0.7" />
<rect x="33.3" y="659.9" width="299.0" height="3.8" fill="#f3f8fa" stroke="none" stroke-width="0.7" />
<line x1="33.0" y1="659.2" x2="332.5" y2="659.2" stroke="#70808a" stroke-width="0.7" />
<line x1="45.0" y1="663.6" x2="332.5" y2="663.6" stroke="#70808a" stroke-width="0.7" />
<line x1="45.0" y1="669.5" x2="332.5" y2="669.5" stroke="#70808a" stroke-width="0.7" />
<line x1="45.0" y1="675.3" x2="332.5" y2="675.3" stroke="#70808a" stroke-width="0.7" />
<line x1="45.0" y1="680.8" x2="332.5" y2="680.8" stroke="#70808a" stroke-width="0.7" />
<rect x="35.0" y="664.5" width="9.5" height="21.5" fill="#fff" stroke="none" stroke-width="0.7" />
<line x1="44.7" y1="664.0" x2="44.7" y2="687.0" stroke="#70808a" stroke-width="0.7" />
<line x1="33.0" y1="663.2" x2="60.0" y2="663.2" stroke="#161616" stroke-width="2.2" />
<line x1="34.0" y1="662.0" x2="34.0" y2="688.5" stroke="#161616" stroke-width="2.0" />
<line x1="33.0" y1="687.6" x2="58.5" y2="687.6" stroke="#161616" stroke-width="2.2" />
<line x1="2.5" y1="675.8" x2="30.5" y2="675.8" stroke="#161616" stroke-width="3.4" stroke-linecap="round"/>
<rect x="32.6" y="671.8" width="2.6" height="8.2" fill="#161616" stroke="none" stroke-width="0.7" />
<rect x="37.0" y="688.5" width="295.5" height="13.7" fill="#e3e3e3" stroke="none" stroke-width="0.7" />
<rect x="37.0" y="702.2" width="295.5" height="13.6" fill="#e3e3e3" stroke="none" stroke-width="0.7" />
<line x1="45.0" y1="686.7" x2="332.5" y2="686.7" stroke="#6a6a6a" stroke-width="1.3" />
<line x1="44.0" y1="688.4" x2="332.5" y2="688.4" stroke="#161616" stroke-width="1.7" />
<line x1="37.0" y1="702.3" x2="332.5" y2="702.3" stroke="#161616" stroke-width="1.5" />
<line x1="37.0" y1="715.8" x2="332.5" y2="715.8" stroke="#161616" stroke-width="1.5" />
<line x1="33.0" y1="717.6" x2="332.5" y2="717.6" stroke="#999" stroke-width="0.7" />
<line x1="37.0" y1="689.0" x2="37.0" y2="716.0" stroke="#161616" stroke-width="1.2" />
<rect x="32.8" y="691.2" width="4.4" height="5.6" fill="#161616" stroke="none" stroke-width="0.7" />
<polyline points="36.5,694.5 41.5,697.5 43.8,701.5 43.8,741.0" fill="none" stroke="#444" stroke-width="0.8" />
<rect x="142.3" y="582.0" width="2.4" height="136.0" fill="#fff" stroke="none" stroke-width="0.7" />
<line x1="141.2" y1="580.0" x2="141.2" y2="719.0" stroke="#333" stroke-width="1.0" stroke-dasharray="9 2.5 1.5 2.5"/>
<line x1="145.7" y1="580.0" x2="145.7" y2="719.0" stroke="#333" stroke-width="1.0" stroke-dasharray="9 2.5 1.5 2.5"/>
<circle cx="71.2" cy="593.2" r="4.3" fill="#e3eef3" stroke="#1a1a1a" stroke-width="1.2"/>
<circle cx="71.2" cy="593.2" r="2.0" fill="#c9dde7" stroke="#1a1a1a" stroke-width="0.8"/>
<circle cx="71.2" cy="593.2" r="0.8" fill="#1a1a1a" stroke="none" stroke-width="0.7"/>
<circle cx="89.6" cy="608.8" r="4.3" fill="#e3eef3" stroke="#1a1a1a" stroke-width="1.2"/>
<circle cx="89.6" cy="608.8" r="2.0" fill="#c9dde7" stroke="#1a1a1a" stroke-width="0.8"/>
<circle cx="89.6" cy="608.8" r="0.8" fill="#1a1a1a" stroke="none" stroke-width="0.7"/>
<circle cx="71.2" cy="624.7" r="4.3" fill="#e3eef3" stroke="#1a1a1a" stroke-width="1.2"/>
<circle cx="71.2" cy="624.7" r="2.0" fill="#c9dde7" stroke="#1a1a1a" stroke-width="0.8"/>
<circle cx="71.2" cy="624.7" r="0.8" fill="#1a1a1a" stroke="none" stroke-width="0.7"/>
<polyline points="193.8,663.5 193.8,626.3 236.9,626.3 236.9,663.5" fill="none" stroke="#15191c" stroke-width="4.7" stroke-linejoin="miter"/>
<polyline points="192.7,663.0 192.7,625.0 238.0,625.0 238.0,663.0" fill="none" stroke="#8d9ca5" stroke-width="0.6" />
<line x1="195.0" y1="624.9" x2="235.8" y2="624.9" stroke="#c9d5dc" stroke-width="1.0" />
<line x1="193.0" y1="663.0" x2="193.0" y2="675.6" stroke="#15191c" stroke-width="2.0" stroke-linecap="round"/>
<line x1="238.0" y1="663.0" x2="238.0" y2="675.0" stroke="#15191c" stroke-width="1.2" />
<line x1="71.2" y1="683.0" x2="71.2" y2="700.0" stroke="#161616" stroke-width="2.3" />
<polygon points="70.0,683.5 71.2,680.0 72.4,683.5" fill="#161616" stroke="none" stroke-width="0.7" stroke-linejoin="round" />
<polygon points="68.6,701.5 73.8,701.5 71.9,698.1 70.5,698.1" fill="#161616" stroke="none" stroke-width="0.7" stroke-linejoin="round" />
<line x1="71.2" y1="683.0" x2="71.2" y2="698.5" stroke="#161616" stroke-width="3.3" stroke-dasharray="0.7 0.9"/>
<line x1="78.4" y1="679.0" x2="78.4" y2="714.0" stroke="#161616" stroke-width="2.3" />
<polygon points="77.2,679.5 78.4,676.0 79.6,679.5" fill="#161616" stroke="none" stroke-width="0.7" stroke-linejoin="round" />
<polygon points="75.8,715.5 81.0,715.5 79.1,712.1 77.7,712.1" fill="#161616" stroke="none" stroke-width="0.7" stroke-linejoin="round" />
<line x1="78.4" y1="679.0" x2="78.4" y2="712.5" stroke="#161616" stroke-width="3.3" stroke-dasharray="0.7 0.9"/>
<line x1="178.0" y1="683.0" x2="178.0" y2="700.0" stroke="#161616" stroke-width="2.3" />
<polygon points="176.8,683.5 178.0,680.0 179.2,683.5" fill="#161616" stroke="none" stroke-width="0.7" stroke-linejoin="round" />
<polygon points="175.4,701.5 180.6,701.5 178.7,698.1 177.3,698.1" fill="#161616" stroke="none" stroke-width="0.7" stroke-linejoin="round" />
<line x1="178.0" y1="683.0" x2="178.0" y2="698.5" stroke="#161616" stroke-width="3.3" stroke-dasharray="0.7 0.9"/>
<line x1="186.5" y1="678.5" x2="186.5" y2="714.0" stroke="#161616" stroke-width="2.3" />
<polygon points="185.3,679.0 186.5,675.5 187.7,679.0" fill="#161616" stroke="none" stroke-width="0.7" stroke-linejoin="round" />
<polygon points="183.9,715.5 189.1,715.5 187.2,712.1 185.8,712.1" fill="#161616" stroke="none" stroke-width="0.7" stroke-linejoin="round" />
<line x1="186.5" y1="678.5" x2="186.5" y2="712.5" stroke="#161616" stroke-width="3.3" stroke-dasharray="0.7 0.9"/>
<line x1="323.6" y1="678.5" x2="323.6" y2="714.0" stroke="#161616" stroke-width="2.3" />
<polygon points="322.5,679.0 323.6,675.5 324.8,679.0" fill="#161616" stroke="none" stroke-width="0.7" stroke-linejoin="round" />
<polygon points="321.0,715.5 326.2,715.5 324.3,712.1 322.9,712.1" fill="#161616" stroke="none" stroke-width="0.7" stroke-linejoin="round" />
<line x1="323.6" y1="678.5" x2="323.6" y2="712.5" stroke="#161616" stroke-width="3.3" stroke-dasharray="0.7 0.9"/>
<text x="257.3" y="563.6" font-size="17.2" fill="#e2202b" stroke="#e2202b" stroke-width="0.3" text-anchor="start" font-weight="normal" textLength="22.3" lengthAdjust="spacingAndGlyphs" >3.6</text>
<line x1="268.0" y1="569.5" x2="268.0" y2="588.5" stroke="#161616" stroke-width="1.0" />
<circle cx="268.0" cy="588.5" r="2.6" fill="#000" stroke="none" stroke-width="0.7"/>
<circle cx="58.5" cy="687.6" r="2.6" fill="#000" stroke="none" stroke-width="0.7"/>
<line x1="58.5" y1="687.6" x2="58.5" y2="721.0" stroke="#161616" stroke-width="1.0" />
<text x="47.5" y="736.4" font-size="17.2" fill="#e2202b" stroke="#e2202b" stroke-width="0.3" text-anchor="start" font-weight="normal" textLength="20.6" lengthAdjust="spacingAndGlyphs" >3.7</text>
<circle cx="114.5" cy="680.8" r="2.6" fill="#000" stroke="none" stroke-width="0.7"/>
<line x1="114.5" y1="680.8" x2="114.5" y2="721.0" stroke="#161616" stroke-width="1.0" />
<text x="104.0" y="736.4" font-size="17.2" fill="#e2202b" stroke="#e2202b" stroke-width="0.3" text-anchor="start" font-weight="normal" textLength="20.6" lengthAdjust="spacingAndGlyphs" >3.3</text>
<text x="34.0" y="757.9" font-size="17.2" fill="#e2202b" stroke="#e2202b" stroke-width="0.3" text-anchor="start" font-weight="normal" textLength="20.6" lengthAdjust="spacingAndGlyphs" >5.1</text>
<circle cx="76.2" cy="718.0" r="2.6" fill="#000" stroke="none" stroke-width="0.7"/>
<line x1="76.2" y1="718.0" x2="76.2" y2="742.0" stroke="#161616" stroke-width="1.0" />
<text x="66.0" y="757.9" font-size="17.2" fill="#e2202b" stroke="#e2202b" stroke-width="0.3" text-anchor="start" font-weight="normal" textLength="20.6" lengthAdjust="spacingAndGlyphs" >5.2</text>
<circle cx="178.0" cy="701.0" r="2.6" fill="#000" stroke="none" stroke-width="0.7"/>
<line x1="178.0" y1="701.0" x2="178.0" y2="737.0" stroke="#161616" stroke-width="1.0" />
<text x="167.0" y="753.9" font-size="17.2" fill="#e2202b" stroke="#e2202b" stroke-width="0.3" text-anchor="start" font-weight="normal" textLength="20.6" lengthAdjust="spacingAndGlyphs" >2.1</text>
<circle cx="238.0" cy="675.0" r="2.6" fill="#000" stroke="none" stroke-width="0.7"/>
<line x1="238.0" y1="675.0" x2="238.0" y2="737.0" stroke="#161616" stroke-width="1.0" />
<text x="226.0" y="753.9" font-size="17.2" fill="#e2202b" stroke="#e2202b" stroke-width="0.3" text-anchor="start" font-weight="normal" textLength="20.6" lengthAdjust="spacingAndGlyphs" >3.4</text>
<circle cx="282.0" cy="695.0" r="2.6" fill="#000" stroke="none" stroke-width="0.7"/>
<line x1="282.0" y1="695.0" x2="282.0" y2="737.0" stroke="#161616" stroke-width="1.0" />
<text x="269.6" y="753.9" font-size="17.2" fill="#e2202b" stroke="#e2202b" stroke-width="0.3" text-anchor="start" font-weight="normal" textLength="20.6" lengthAdjust="spacingAndGlyphs" >1.1</text>
<circle cx="305.0" cy="707.6" r="2.6" fill="#000" stroke="none" stroke-width="0.7"/>
<line x1="305.0" y1="707.6" x2="305.0" y2="722.0" stroke="#161616" stroke-width="1.0" />
<text x="293.6" y="735.9" font-size="17.2" fill="#e2202b" stroke="#e2202b" stroke-width="0.3" text-anchor="start" font-weight="normal" textLength="20.6" lengthAdjust="spacingAndGlyphs" >1.1</text>
<circle cx="323.2" cy="714.2" r="2.6" fill="#000" stroke="none" stroke-width="0.7"/>
<line x1="323.2" y1="714.2" x2="323.2" y2="737.0" stroke="#161616" stroke-width="1.0" />
<text x="311.6" y="753.9" font-size="17.2" fill="#e2202b" stroke="#e2202b" stroke-width="0.3" text-anchor="start" font-weight="normal" textLength="20.6" lengthAdjust="spacingAndGlyphs" >2.1</text>
<rect x="667.5" y="527.0" width="32.5" height="273.0" fill="#f3f4f4" stroke="none" stroke-width="0.7" />
<line x1="368.0" y1="526.6" x2="700.0" y2="526.6" stroke="#161616" stroke-width="1.6" />
<line x1="667.8" y1="526.0" x2="667.8" y2="800.0" stroke="#161616" stroke-width="1.7" />
<rect x="368.4" y="622.4" width="293.6" height="35.2" fill="#d4e7ee" stroke="none" stroke-width="0.7" />
<polyline points="368.4,622.4 662.0,622.4 662.0,657.6 368.4,657.6" fill="none" stroke="#7f8f98" stroke-width="0.8" />
<rect x="368.4" y="686.0" width="295.0" height="13.0" fill="#e3e3e3" stroke="none" stroke-width="0.7" />
<rect x="368.4" y="699.0" width="295.0" height="13.6" fill="#e3e3e3" stroke="none" stroke-width="0.7" />
<line x1="663.4" y1="686.0" x2="663.4" y2="713.4" stroke="#161616" stroke-width="1.2" />
<line x1="368.4" y1="686.0" x2="665.0" y2="686.0" stroke="#161616" stroke-width="1.6" />
<line x1="368.4" y1="699.0" x2="663.5" y2="699.0" stroke="#161616" stroke-width="1.4" />
<line x1="368.4" y1="712.8" x2="663.5" y2="712.8" stroke="#161616" stroke-width="1.4" />
<line x1="623.4" y1="713.4" x2="665.0" y2="713.4" stroke="#888" stroke-width="1.6" />
<line x1="668.5" y1="592.2" x2="698.5" y2="592.2" stroke="#3f3f3f" stroke-width="0.8" />
<line x1="668.5" y1="594.8" x2="698.5" y2="594.8" stroke="#3f3f3f" stroke-width="0.8" />
<line x1="668.5" y1="593.5" x2="698.5" y2="593.5" stroke="#8a8a8a" stroke-width="1.8" stroke-dasharray="0.9 0.9"/>
<line x1="668.5" y1="604.7" x2="698.5" y2="604.7" stroke="#3f3f3f" stroke-width="0.8" />
<line x1="668.5" y1="607.3" x2="698.5" y2="607.3" stroke="#3f3f3f" stroke-width="0.8" />
<line x1="668.5" y1="606.0" x2="698.5" y2="606.0" stroke="#8a8a8a" stroke-width="1.8" stroke-dasharray="0.9 0.9"/>
<line x1="668.5" y1="619.4" x2="698.5" y2="619.4" stroke="#3f3f3f" stroke-width="0.8" />
<line x1="668.5" y1="622.0" x2="698.5" y2="622.0" stroke="#3f3f3f" stroke-width="0.8" />
<line x1="668.5" y1="620.7" x2="698.5" y2="620.7" stroke="#8a8a8a" stroke-width="1.8" stroke-dasharray="0.9 0.9"/>
<line x1="668.5" y1="671.5" x2="698.5" y2="671.5" stroke="#3f3f3f" stroke-width="0.8" />
<line x1="668.5" y1="674.1" x2="698.5" y2="674.1" stroke="#3f3f3f" stroke-width="0.8" />
<line x1="668.5" y1="672.8" x2="698.5" y2="672.8" stroke="#8a8a8a" stroke-width="1.8" stroke-dasharray="0.9 0.9"/>
<rect x="664.4" y="668.6" width="3.2" height="8.4" fill="#161616" stroke="none" stroke-width="0.7" />
<line x1="665.6" y1="586.5" x2="665.6" y2="690.0" stroke="#161616" stroke-width="2.6" />
<line x1="632.0" y1="659.0" x2="666.0" y2="659.0" stroke="#161616" stroke-width="3.0" />
<line x1="640.0" y1="684.2" x2="666.0" y2="684.2" stroke="#161616" stroke-width="2.4" />
<line x1="665.4" y1="679.0" x2="665.4" y2="700.0" stroke="#161616" stroke-width="1.6" />
<rect x="662.8" y="690.2" width="4.0" height="5.6" fill="#161616" stroke="none" stroke-width="0.7" />
<polyline points="664.0,694.0 659.0,698.0 656.0,702.0 656.0,719.0" fill="none" stroke="#444" stroke-width="0.8" />
<path d="M508.8 661.2 C505.5 660.2 503.4 662.5 504.2 665.5 L504.6 684.6 L559.6 684.6 L560 665.5 C560.8 662.5 558.8 660.2 555.4 661.2" fill="none" stroke="#161616" stroke-width="2.0" stroke-linejoin="round" stroke-linecap="round"/>
<path d="M508.8 661.2 C510.5 662.8 510 665.5 507.6 666" fill="none" stroke="#161616" stroke-width="1.6" stroke-linecap="round"/>
<path d="M555.4 661.2 C553.8 662.8 554.2 665.5 556.6 666" fill="none" stroke="#161616" stroke-width="1.6" stroke-linecap="round"/>
<path d="M512.6 622 C512.6 620.8 513.4 620.4 514.6 620.4 L521.8 620.4 C524 624.6 528 626 533.4 626 C538.8 626 542.8 624.6 545 620.4 L550 620.4 C551.2 620.4 552 620.8 552 622 L552 638.5 C548.2 641.5 546.2 646 546.6 651 C547 656 550 660.5 555 663.6 C557 664.6 557.6 662.4 559.6 663 C558.6 668 554.5 671.8 549 672 L515.6 672 C510 671.8 506 668 505 663 C507 662.4 507.6 664.6 509.6 663.6 C514.6 660.5 517.8 656 518.4 650.5 C518.4 646 516.4 641.5 512.6 638.5 Z" fill="#a9c7d9" stroke="#3c4b55" stroke-width="0.9" stroke-linejoin="round"/>
<path d="M509 666.5 C512 669.5 516 670 520.5 669.8 L544 669.8 C548.5 670 552.5 669.5 555.6 666.5" fill="none" stroke="#3c4b55" stroke-width="0.8"/>
<circle cx="524.0" cy="634.5" r="1.5" fill="#fff" stroke="#3c4b55" stroke-width="0.7"/>
<circle cx="541.0" cy="638.3" r="1.5" fill="#fff" stroke="#3c4b55" stroke-width="0.7"/>
<circle cx="524.0" cy="642.5" r="1.5" fill="#fff" stroke="#3c4b55" stroke-width="0.7"/>
<circle cx="541.0" cy="646.4" r="1.5" fill="#fff" stroke="#3c4b55" stroke-width="0.7"/>
<circle cx="524.0" cy="650.6" r="1.5" fill="#fff" stroke="#3c4b55" stroke-width="0.7"/>
<circle cx="541.0" cy="654.5" r="1.5" fill="#fff" stroke="#3c4b55" stroke-width="0.7"/>
<circle cx="524.0" cy="658.6" r="1.5" fill="#fff" stroke="#3c4b55" stroke-width="0.7"/>
<circle cx="541.0" cy="662.6" r="1.5" fill="#fff" stroke="#3c4b55" stroke-width="0.7"/>
<line x1="528.7" y1="681.0" x2="528.7" y2="696.5" stroke="#161616" stroke-width="2.3" />
<polygon points="527.6,681.5 528.7,678.0 529.9,681.5" fill="#161616" stroke="none" stroke-width="0.7" stroke-linejoin="round" />
<polygon points="526.1,698.0 531.3,698.0 529.4,694.6 528.0,694.6" fill="#161616" stroke="none" stroke-width="0.7" stroke-linejoin="round" />
<line x1="528.7" y1="681.0" x2="528.7" y2="695.0" stroke="#161616" stroke-width="3.3" stroke-dasharray="0.7 0.9"/>
<line x1="540.7" y1="678.0" x2="540.7" y2="711.5" stroke="#161616" stroke-width="2.3" />
<polygon points="539.6,678.5 540.7,675.0 541.9,678.5" fill="#161616" stroke="none" stroke-width="0.7" stroke-linejoin="round" />
<polygon points="538.1,713.0 543.3,713.0 541.4,709.6 540.0,709.6" fill="#161616" stroke="none" stroke-width="0.7" stroke-linejoin="round" />
<line x1="540.7" y1="678.0" x2="540.7" y2="710.0" stroke="#161616" stroke-width="3.3" stroke-dasharray="0.7 0.9"/>
<text x="462.0" y="571.9" font-size="17.2" fill="#e2202b" stroke="#e2202b" stroke-width="0.3" text-anchor="start" font-weight="normal" textLength="21.4" lengthAdjust="spacingAndGlyphs" >3.1</text>
<line x1="471.6" y1="579.0" x2="471.6" y2="627.0" stroke="#161616" stroke-width="1.0" />
<circle cx="471.6" cy="627.0" r="2.6" fill="#000" stroke="none" stroke-width="0.7"/>
<text x="521.0" y="571.9" font-size="17.2" fill="#e2202b" stroke="#e2202b" stroke-width="0.3" text-anchor="start" font-weight="normal" textLength="21.4" lengthAdjust="spacingAndGlyphs" >3.4</text>
<line x1="532.5" y1="579.0" x2="532.5" y2="627.0" stroke="#161616" stroke-width="1.0" />
<circle cx="532.5" cy="627.0" r="2.6" fill="#000" stroke="none" stroke-width="0.7"/>
<text x="587.7" y="572.9" font-size="17.2" fill="#e2202b" stroke="#e2202b" stroke-width="0.3" text-anchor="start" font-weight="normal" textLength="21.8" lengthAdjust="spacingAndGlyphs" >3.6</text>
<polyline points="599.0,579.5 599.0,623.0 632.0,659.0" fill="none" stroke="#161616" stroke-width="0.9" />
<circle cx="632.0" cy="659.0" r="2.6" fill="#000" stroke="none" stroke-width="0.7"/>
<circle cx="446.4" cy="696.6" r="2.6" fill="#000" stroke="none" stroke-width="0.7"/>
<line x1="446.4" y1="696.6" x2="446.4" y2="720.0" stroke="#161616" stroke-width="1.0" />
<text x="435.0" y="735.4" font-size="17.2" fill="#e2202b" stroke="#e2202b" stroke-width="0.3" text-anchor="start" font-weight="normal" textLength="20.6" lengthAdjust="spacingAndGlyphs" >1.1</text>
<circle cx="417.0" cy="707.0" r="2.6" fill="#000" stroke="none" stroke-width="0.7"/>
<line x1="417.0" y1="707.0" x2="417.0" y2="736.5" stroke="#161616" stroke-width="1.0" />
<text x="407.0" y="751.4" font-size="17.2" fill="#e2202b" stroke="#e2202b" stroke-width="0.3" text-anchor="start" font-weight="normal" textLength="20.6" lengthAdjust="spacingAndGlyphs" >1.1</text>
<circle cx="505.0" cy="685.0" r="2.6" fill="#000" stroke="none" stroke-width="0.7"/>
<line x1="505.0" y1="685.0" x2="505.0" y2="736.5" stroke="#161616" stroke-width="1.0" />
<text x="494.0" y="751.4" font-size="17.2" fill="#e2202b" stroke="#e2202b" stroke-width="0.3" text-anchor="start" font-weight="normal" textLength="20.6" lengthAdjust="spacingAndGlyphs" >3.3</text>
<circle cx="527.0" cy="697.0" r="2.6" fill="#000" stroke="none" stroke-width="0.7"/>
<line x1="527.0" y1="697.0" x2="527.0" y2="720.0" stroke="#161616" stroke-width="1.0" />
<text x="515.5" y="735.4" font-size="17.2" fill="#e2202b" stroke="#e2202b" stroke-width="0.3" text-anchor="start" font-weight="normal" textLength="20.6" lengthAdjust="spacingAndGlyphs" >2.1</text>
<circle cx="543.0" cy="712.5" r="2.6" fill="#000" stroke="none" stroke-width="0.7"/>
<line x1="543.0" y1="712.5" x2="543.0" y2="736.5" stroke="#161616" stroke-width="1.0" />
<text x="531.0" y="751.4" font-size="17.2" fill="#e2202b" stroke="#e2202b" stroke-width="0.3" text-anchor="start" font-weight="normal" textLength="20.6" lengthAdjust="spacingAndGlyphs" >2.1</text>
<circle cx="623.4" cy="713.0" r="2.6" fill="#000" stroke="none" stroke-width="0.7"/>
<line x1="623.4" y1="713.0" x2="623.4" y2="722.0" stroke="#161616" stroke-width="1.0" />
<text x="609.7" y="734.4" font-size="17.2" fill="#e2202b" stroke="#e2202b" stroke-width="0.3" text-anchor="start" font-weight="normal" textLength="20.6" lengthAdjust="spacingAndGlyphs" >5.2</text>
<circle cx="664.7" cy="693.0" r="2.4" fill="#000" stroke="none" stroke-width="0.7"/>
<text x="644.4" y="734.4" font-size="17.2" fill="#e2202b" stroke="#e2202b" stroke-width="0.3" text-anchor="start" font-weight="normal" textLength="20.6" lengthAdjust="spacingAndGlyphs" >5.1</text>
<circle cx="640.0" cy="684.0" r="2.6" fill="#000" stroke="none" stroke-width="0.7"/>
<line x1="640.0" y1="684.0" x2="640.0" y2="737.0" stroke="#161616" stroke-width="1.0" />
<text x="629.0" y="751.4" font-size="17.2" fill="#e2202b" stroke="#e2202b" stroke-width="0.3" text-anchor="start" font-weight="normal" textLength="20.6" lengthAdjust="spacingAndGlyphs" >3.7</text>
<line x1="535.0" y1="783.0" x2="672.0" y2="783.0" stroke="#333" stroke-width="0.9" />
<line x1="535.0" y1="766.5" x2="535.0" y2="789.0" stroke="#333" stroke-width="0.9" />
<line x1="531.5" y1="779.5" x2="538.5" y2="786.5" stroke="#888" stroke-width="0.6" />
<line x1="663.5" y1="779.5" x2="670.5" y2="786.5" stroke="#888" stroke-width="0.6" />
<text x="581.8" y="781.6" font-size="15.7" fill="#111" stroke="#111" stroke-width="0.25">≤</text><text x="599.3" y="781.6" font-size="15.7" fill="#111" stroke="#111" stroke-width="0.25" textLength="24.6" lengthAdjust="spacingAndGlyphs">150</text>
</svg>
</body></html>
